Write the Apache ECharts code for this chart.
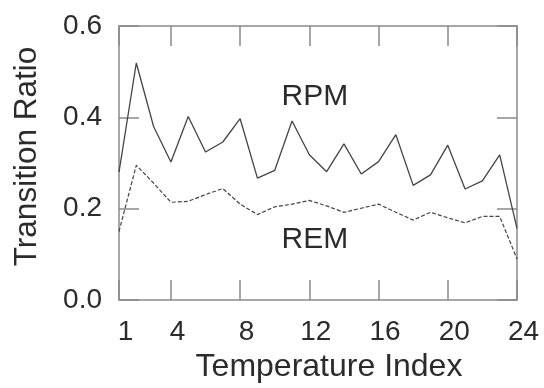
<!DOCTYPE html>
<html>
<head>
<meta charset="utf-8">
<script src="https://cdn.jsdelivr.net/npm/echarts@6/dist/echarts.min.js"></script>
<style>
  html, body { margin: 0; padding: 0; background: #fff; }
  #chart { width: 544px; height: 388px; }
</style>
</head>
<body>
<div id="chart"></div>
<script>
// Temperature index 1..24
const tempIndex = [1, 2, 3, 4, 5, 6, 7, 8, 9, 10, 11, 12, 13, 14, 15, 16, 17, 18, 19, 20, 21, 22, 23, 24];

// Transition ratios
const rpmValues = [0.280, 0.519, 0.380, 0.302, 0.402, 0.324, 0.346, 0.397, 0.267, 0.284, 0.392, 0.318,
                   0.281, 0.342, 0.276, 0.303, 0.362, 0.251, 0.274, 0.339, 0.243, 0.261, 0.318, 0.157];
const remValues = [0.150, 0.295, 0.256, 0.214, 0.216, 0.231, 0.244, 0.210, 0.187, 0.204, 0.210, 0.218,
                   0.206, 0.192, 0.201, 0.210, 0.192, 0.175, 0.192, 0.180, 0.169, 0.183, 0.183, 0.090];

// Tick labels
const xTicks = [1, 4, 8, 12, 16, 20, 24];

// Where the series names sit, in data coordinates
const rpmLabelAt = [12.32, 0.445];
const remLabelAt = [12.32, 0.132];

const FONT = '"Liberation Sans", Arial, Helvetica, sans-serif';
const TEXT = '#2b2b2b';
const FRAME = '#8a8a8a';
const LINE = '#444';

function toPairs(values) {
  return tempIndex.map((x, i) => [x, values[i]]);
}

// invisible marker that only carries the series name as text
function nameMark(text, coord) {
  return {
    symbol: 'rect',
    symbolSize: 1,
    silent: true,
    itemStyle: { color: 'rgba(0,0,0,0)' },
    label: {
      show: true,
      formatter: text,
      position: 'inside',
      fontSize: 30,
      fontFamily: FONT,
      color: TEXT
    },
    data: [{ coord: coord }]
  };
}

const frameLine = { show: true, onZero: false, lineStyle: { color: FRAME, width: 1.5 } };
const frameTick = { show: true, inside: true, length: 20, lineStyle: { color: FRAME, width: 1.5 } };

const chart = echarts.init(document.getElementById('chart'));

chart.setOption({
  animation: false,
  backgroundColor: '#fff',
  grid: { left: 119, right: 27, top: 26, bottom: 79, containLabel: false },
  xAxis: [
    {
      type: 'value',
      position: 'bottom',
      min: 1,
      max: 24,
      name: 'Temperature Index',
      nameLocation: 'middle',
      nameGap: 51,
      nameTextStyle: { fontSize: 32, fontFamily: FONT, color: TEXT, padding: [0, 0, 0, 22] },
      axisLine: frameLine,
      axisTick: Object.assign({}, frameTick, { customValues: xTicks }),
      axisLabel: {
        customValues: xTicks,
        fontSize: 28,
        fontFamily: FONT,
        color: TEXT,
        margin: 18,
        padding: [0, 0, 0, 13]
      },
      splitLine: { show: false }
    },
    {
      type: 'value',
      position: 'top',
      min: 1,
      max: 24,
      axisLine: frameLine,
      axisTick: Object.assign({}, frameTick, { customValues: xTicks }),
      axisLabel: { show: false },
      splitLine: { show: false }
    }
  ],
  yAxis: [
    {
      type: 'value',
      position: 'left',
      min: 0,
      max: 0.6,
      interval: 0.2,
      name: 'Transition Ratio',
      nameLocation: 'middle',
      nameGap: 76,
      nameTextStyle: { fontSize: 31.5, fontFamily: FONT, color: TEXT, padding: [0, 0, 0, 13] },
      axisLine: frameLine,
      axisTick: frameTick,
      axisLabel: {
        fontSize: 28,
        fontFamily: FONT,
        color: TEXT,
        margin: 17,
        formatter: (v) => v.toFixed(1)
      },
      splitLine: { show: false }
    },
    {
      type: 'value',
      position: 'right',
      min: 0,
      max: 0.6,
      interval: 0.2,
      axisLine: frameLine,
      axisTick: frameTick,
      axisLabel: { show: false },
      splitLine: { show: false }
    }
  ],
  series: [
    {
      name: 'RPM',
      type: 'line',
      data: toPairs(rpmValues),
      symbol: 'none',
      lineStyle: { color: LINE, width: 1.3 },
      markPoint: nameMark('RPM', rpmLabelAt)
    },
    {
      name: 'REM',
      type: 'line',
      data: toPairs(remValues),
      symbol: 'none',
      lineStyle: { color: LINE, width: 1.2, type: [4, 2] },
      markPoint: nameMark('REM', remLabelAt)
    }
  ]
});
</script>
</body>
</html>
